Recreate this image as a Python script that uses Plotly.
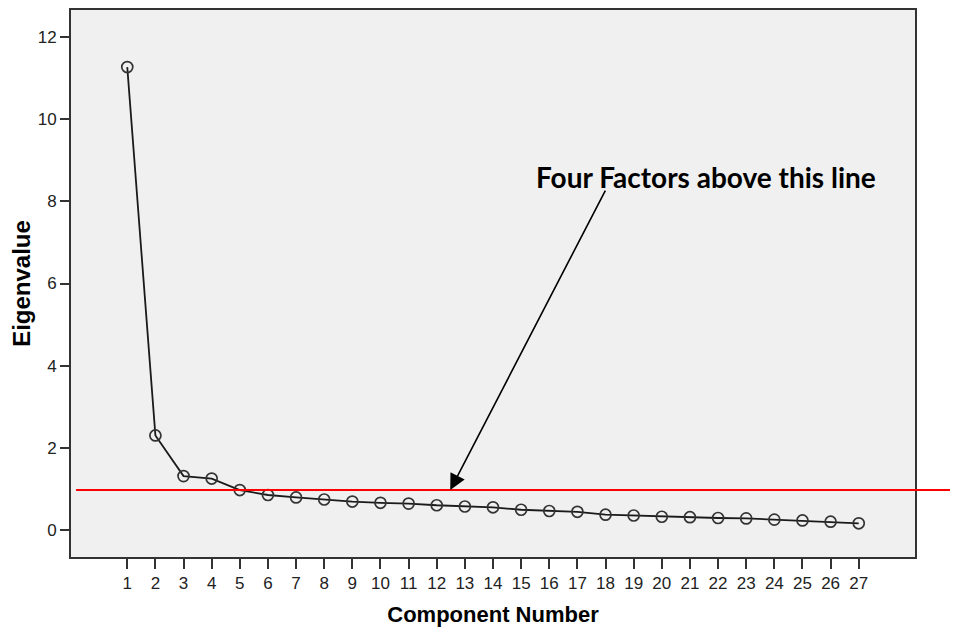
import plotly.graph_objects as go

components = list(range(1, 28))
eigenvalues = [11.27, 2.30, 1.31, 1.25, 0.97, 0.85, 0.79, 0.74, 0.69, 0.66,
               0.64, 0.60, 0.57, 0.55, 0.49, 0.46, 0.44, 0.37, 0.35, 0.32,
               0.31, 0.29, 0.28, 0.25, 0.23, 0.20, 0.16]
cutoff = 0.97
y_ticks = [0, 2, 4, 6, 8, 10, 12]
annotation_text = "Four Factors above this line"

fig = go.Figure()
fig.add_trace(go.Scatter(
    x=components, y=eigenvalues, mode="lines+markers",
    line=dict(color="#1a1a1a", width=1.8),
    marker=dict(symbol="circle-open", size=11, color="#333333", line=dict(width=1.7)),
    showlegend=False, hoverinfo="x+y",
))

# Red cutoff line extending beyond the plot area to the right
fig.add_shape(type="line", xref="paper", yref="y",
              x0=0.006, x1=1.06, y0=cutoff, y1=cutoff,
              line=dict(color="#ff0000", width=2), layer="above")

# Text label
fig.add_annotation(x=21.56, y=8.6, xref="x", yref="y", text=f"<b>{annotation_text}</b>",
                   showarrow=False, font=dict(family="Lato", size=28, color="#000000"))
# Arrow
fig.add_annotation(x=12.48, y=cutoff, xref="x", yref="y",
                   ax=18.02, ay=8.3, axref="x", ayref="y",
                   text="", showarrow=True, arrowhead=2, arrowsize=2.0,
                   arrowwidth=1.6, arrowcolor="#000000", standoff=0, startstandoff=0)

axis_common = dict(showline=True, linecolor="#333333", linewidth=2, mirror=True,
                   ticks="outside", tickcolor="#333333", tickwidth=1.5,
                   showgrid=False, zeroline=False,
                   tickfont=dict(family="Liberation Sans", size=17, color="#222222"))

fig.update_xaxes(range=[-1, 29], tickmode="array", tickvals=components,
                 ticktext=[str(c) for c in components], ticklen=10,
                 title=dict(text="<b>Component Number</b>", standoff=18,
                            font=dict(family="Liberation Sans", size=22, color="#000000")),
                 **axis_common)
fig.update_yaxes(range=[-0.66, 12.66], tickmode="array", tickvals=y_ticks,
                 ticktext=[str(t) for t in y_ticks], ticklen=9,
                 title=dict(text="<b>Eigenvalue</b>", standoff=8,
                            font=dict(family="Liberation Sans", size=24, color="#000000")),
                 **axis_common)

# page body has an 8px margin, so the figure is sized to fit the window
fig.update_layout(
    width=950, height=619,
    margin=dict(l=63, r=43, t=0, b=65),
    plot_bgcolor="#f0f0f0", paper_bgcolor="#ffffff",
    font=dict(family="Liberation Sans"),
)

fig.write_html("out.html")
